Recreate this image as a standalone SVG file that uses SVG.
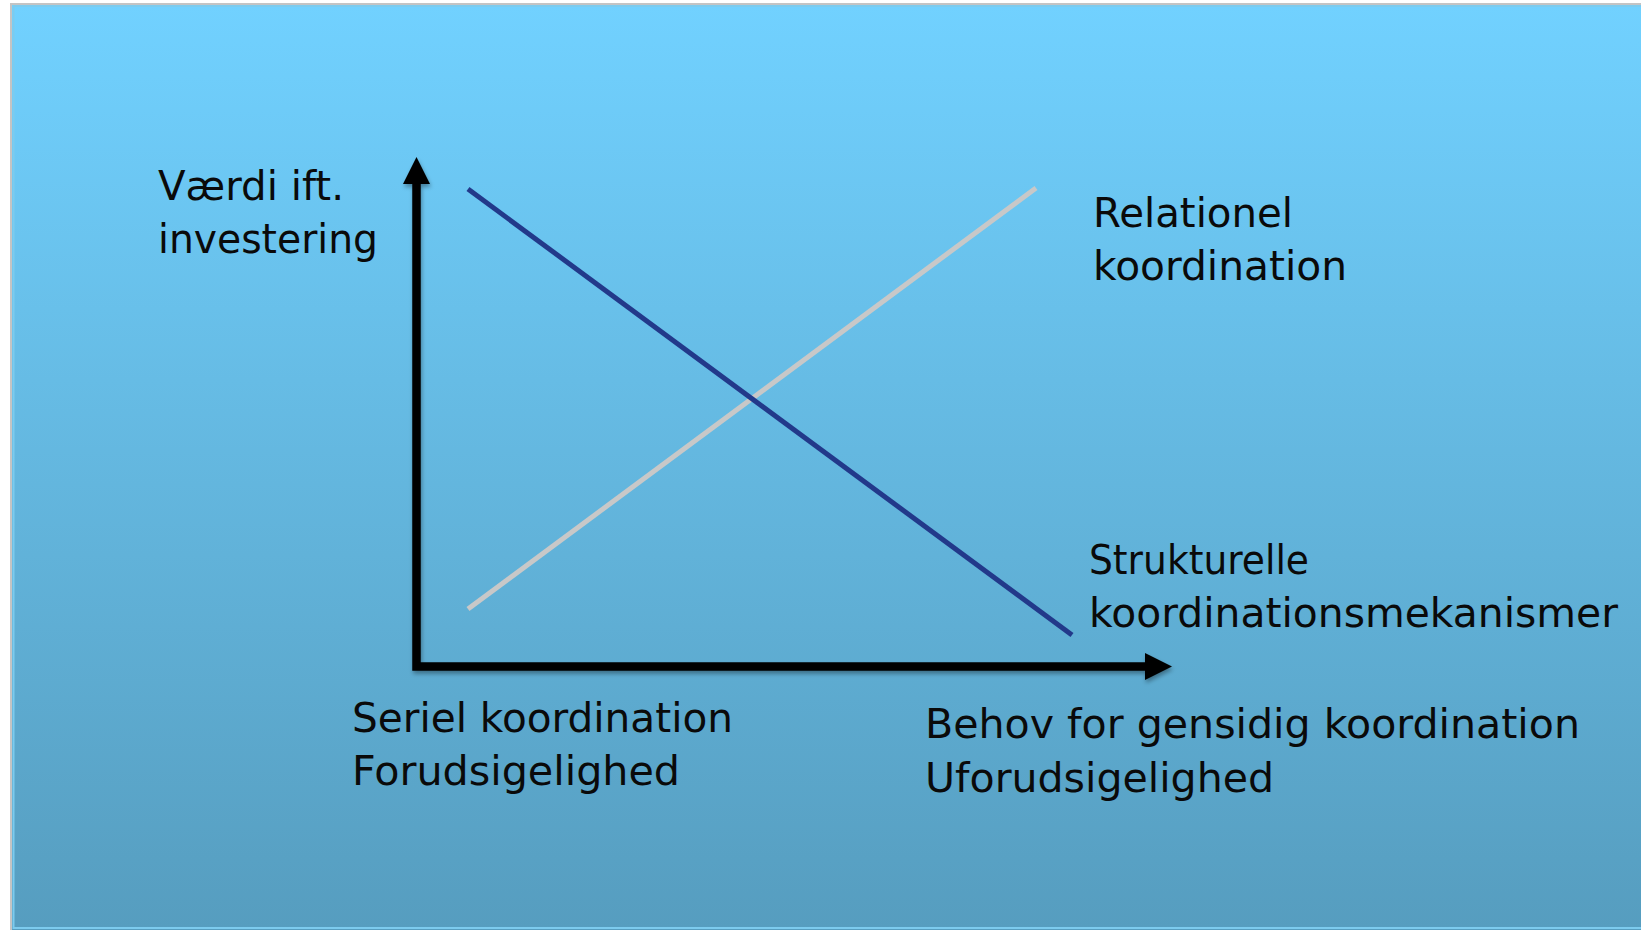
<svg xmlns="http://www.w3.org/2000/svg" width="1641" height="930" viewBox="0 0 1641 930">
  <defs>
    <linearGradient id="slideBg" x1="0" y1="0" x2="0" y2="1">
      <stop offset="0" stop-color="#71D1FF"/>
      <stop offset="1" stop-color="#569DBF"/>
    </linearGradient>
    <filter id="axisShadow" x="-10%" y="-10%" width="120%" height="120%">
      <feDropShadow dx="1" dy="3" stdDeviation="2" flood-color="#000" flood-opacity="0.35"/>
    </filter>
    <style>
      .label { font-family: "DejaVu Sans", "Liberation Sans", sans-serif; font-size: 40px; fill: #0a0a0a; }
      .axis { stroke: #000; stroke-width: 8.5; fill: none; }
      .head { fill: #000; }
    </style>
  </defs>

  <!-- page and slide -->
  <rect x="0" y="0" width="1641" height="930" fill="#ffffff"/>
  <rect x="10" y="3" width="1631" height="927" fill="#c4c4c4"/>
  <rect x="12" y="5" width="1629" height="925" fill="url(#slideBg)"/>
  <rect x="13.5" y="6" width="1630" height="922" fill="none" stroke="#7ccbee" stroke-width="2"/>

  <!-- axes and trend lines -->
  <g id="connectors">
    <g id="axes" filter="url(#axisShadow)">
      <path class="axis" d="M416.5,184 V666.5 H1146"/>
      <polygon class="head" points="403,184 430,184 416.5,157"/>
      <polygon class="head" points="1145,653 1145,680 1172,666.5"/>
    </g>
    <line id="line-relational" x1="468" y1="609" x2="1036" y2="188" stroke="#c8c8c8" stroke-width="5"/>
    <line id="line-structural" x1="468" y1="189" x2="1072" y2="635" stroke="#22398a" stroke-width="5"/>
  </g>

  <g id="y-axis-label">
    <text class="label" x="158" y="200" textLength="186" lengthAdjust="spacingAndGlyphs">Værdi ift.</text>
    <text class="label" x="158" y="253" textLength="220" lengthAdjust="spacingAndGlyphs">investering</text>
  </g>

  <g id="relational-label">
    <text class="label" x="1093" y="227" textLength="200" lengthAdjust="spacingAndGlyphs">Relationel</text>
    <text class="label" x="1093" y="280" textLength="254" lengthAdjust="spacingAndGlyphs">koordination</text>
  </g>

  <g id="structural-label">
    <text class="label" x="1089" y="574" textLength="220" lengthAdjust="spacingAndGlyphs">Strukturelle</text>
    <text class="label" x="1089" y="627" textLength="529" lengthAdjust="spacingAndGlyphs">koordinationsmekanismer</text>
  </g>

  <g id="x-axis-low-label">
    <text class="label" x="352" y="732" textLength="381" lengthAdjust="spacingAndGlyphs">Seriel koordination</text>
    <text class="label" x="352" y="785" textLength="328" lengthAdjust="spacingAndGlyphs">Forudsigelighed</text>
  </g>

  <g id="x-axis-high-label">
    <text class="label" x="925" y="738" textLength="655" lengthAdjust="spacingAndGlyphs">Behov for gensidig koordination</text>
    <text class="label" x="925" y="792" textLength="349" lengthAdjust="spacingAndGlyphs">Uforudsigelighed</text>
  </g>
</svg>
